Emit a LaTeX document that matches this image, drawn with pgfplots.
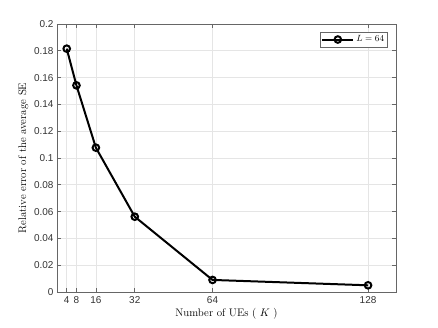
\documentclass[border=0pt]{standalone}
\usepackage{fontspec}
\usepackage{pgfplots}
\pgfplotsset{compat=1.18}
\newfontfamily\ticksf{Liberation Sans}
\begin{document}
\begin{tikzpicture}
\path[use as bounding box] (-57bp,-36bp) rectangle (381bp,292bp);
\begin{axis}[
  at={(0,0)}, anchor=south west,
  scale only axis, width=339bp, height=268bp,
  xmin=0, xmax=139.5, ymin=0, ymax=0.2,
  xtick={4,8,16,32,64,128},
  ytick={0,0.02,...,0.2},
  yticklabels={0,0.02,0.04,0.06,0.08,0.1,0.12,0.14,0.16,0.18,0.2},
  /pgf/number format/assume math mode=true,
  tick label style={font=\ticksf\fontsize{10}{12}\selectfont, color=black!80},
  xticklabel style={yshift=-1bp},
  grid=major,
  major grid style={color=black!10, line width=0.6bp},
  axis line style={color=black!60, line width=0.7bp},
  tick style={color=black!60, line width=0.6bp},
  tick align=inside,
  major tick length=4bp,
  xlabel={Number of UEs ( $K$ )},
  ylabel={Relative error of the average SE},
  label style={font=\fontsize{11}{13}\selectfont},
  xlabel style={yshift=2bp},
  ylabel style={yshift=-1bp},
  legend style={at={(0.976,0.97)}, anchor=north east, font=\fontsize{9.5}{11}\selectfont,
    draw=black!60, inner sep=1.5pt, row sep=0pt},
  legend cell align=left,
  legend image code/.code={
    \draw[mark repeat=2,mark phase=2] plot coordinates {(0cm,0cm) (0.55cm,0cm) (1.1cm,0cm)};},
]
\addplot[black, line width=2bp, mark=o, mark size=3.3bp, mark options={line width=2bp}]
coordinates {(4,0.1816) (8,0.1542) (16,0.1077) (32,0.0562) (64,0.0090) (128,0.0050)};
\addlegendentry{$L=64$}
\end{axis}
\end{tikzpicture}
\end{document}
